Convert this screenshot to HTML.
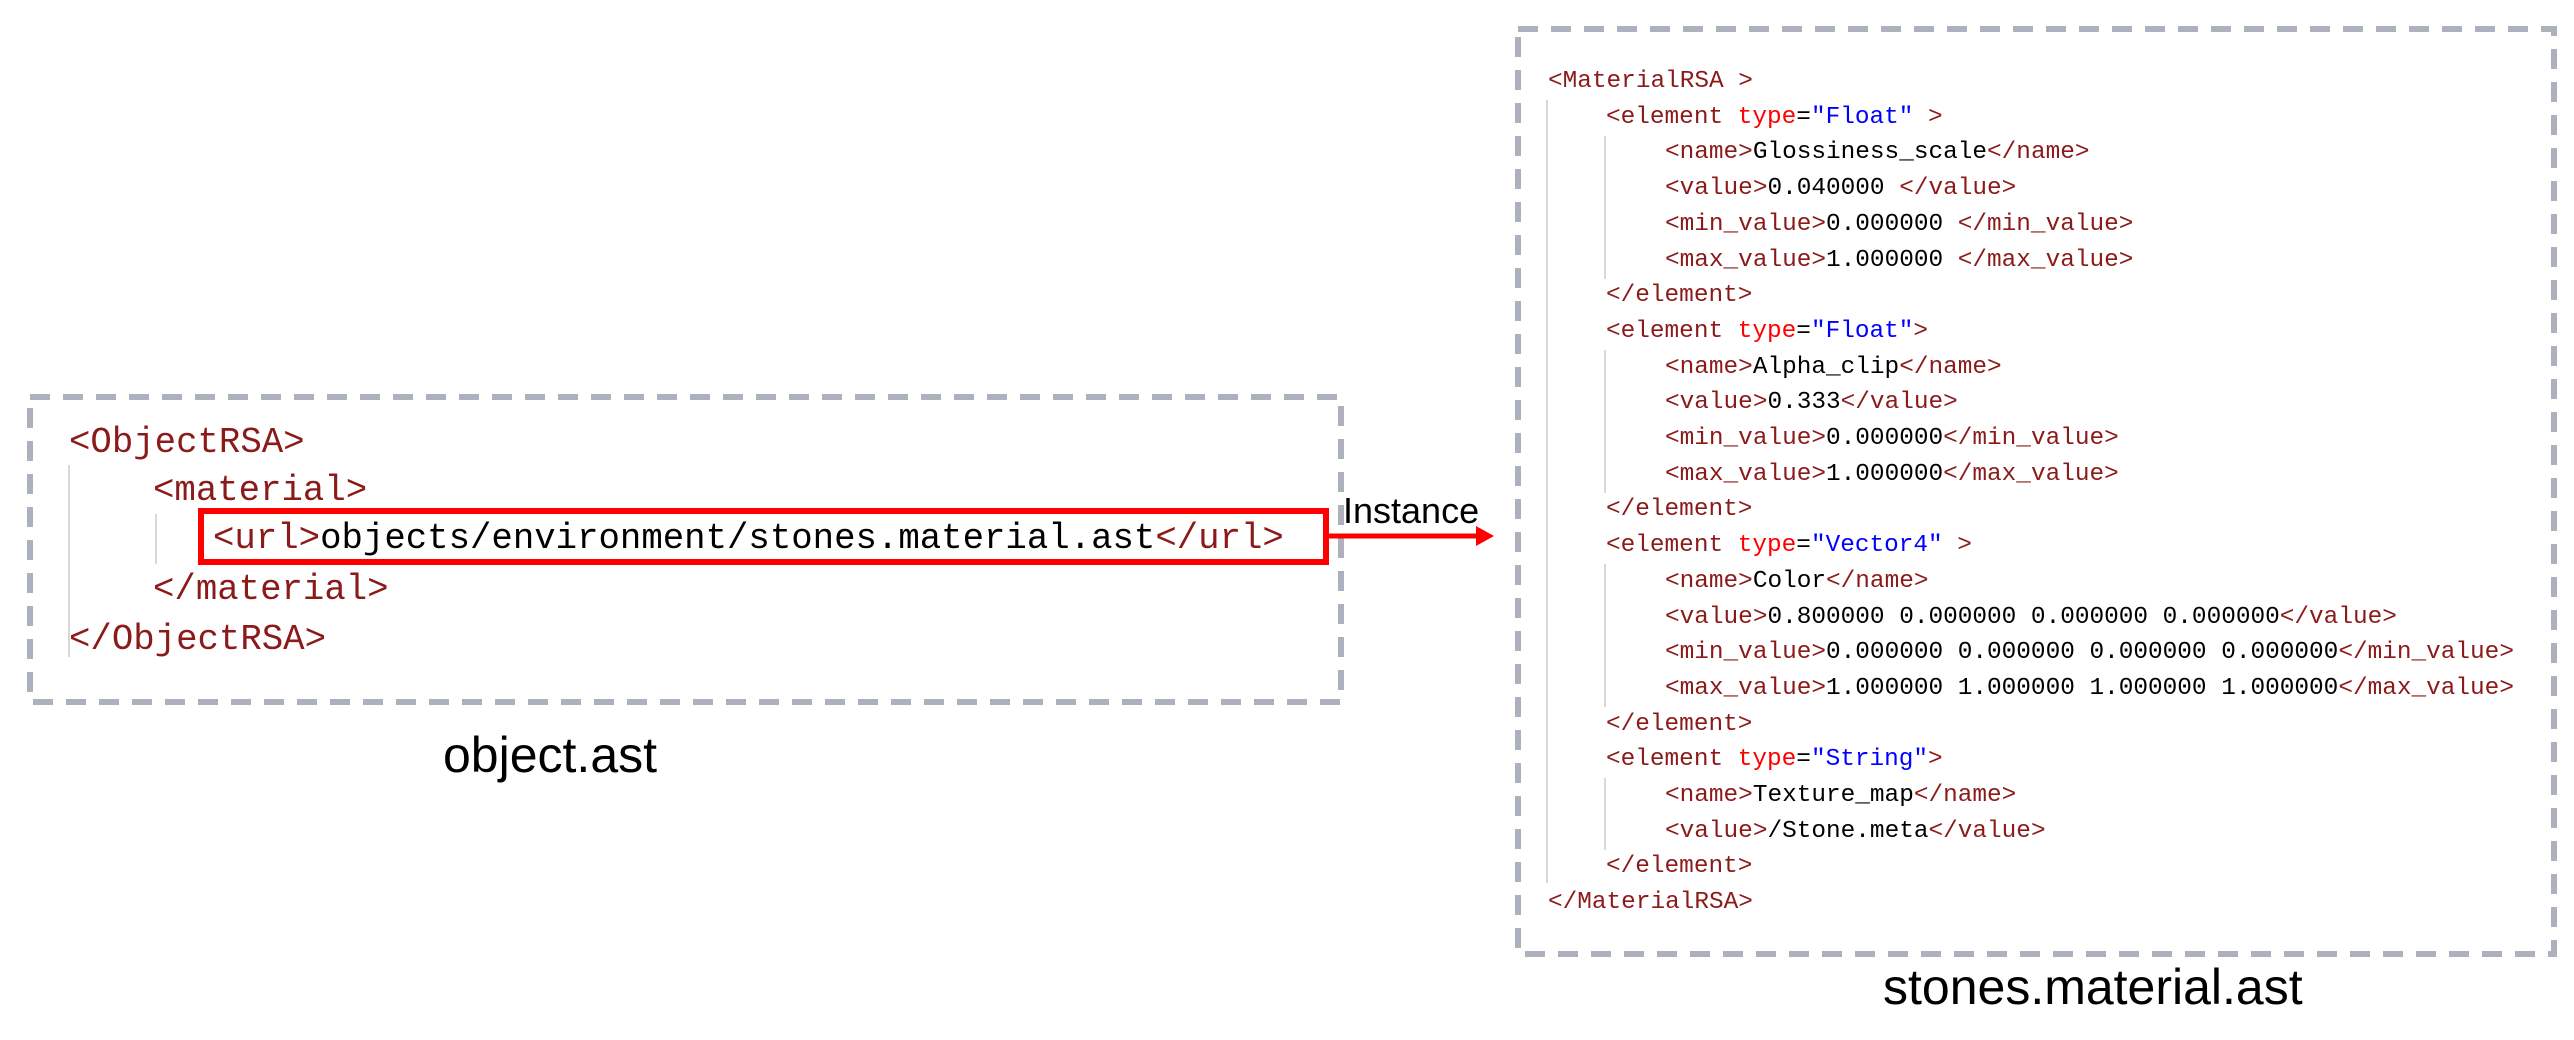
<!DOCTYPE html>
<html><head><meta charset="utf-8"><style>
html,body{margin:0;padding:0;background:#fff;}
body{width:2574px;height:1040px;position:relative;overflow:hidden;}
.l{position:absolute;white-space:pre;font-family:"Liberation Mono",monospace;line-height:1;color:#000;}
.L{font-size:35.7px;}
.R{font-size:24.4px;}
.t{color:#8b1a1a;}
.a{color:#ff0000;}
.v{color:#0000ff;}
.cap{position:absolute;font-family:"Liberation Sans",Arial,sans-serif;color:#000;white-space:pre;line-height:1;}
.g{position:absolute;width:2px;background:#d8d8d8;}
#rt{position:absolute;left:0;top:3px;width:2574px;height:1000px;}
</style></head><body>
<svg width="2574" height="1040" style="position:absolute;left:0;top:0">
<rect x="30" y="397" width="1311" height="305" fill="none" stroke="#adb1bd" stroke-width="6" stroke-dasharray="20,13"/>
<rect x="1518" y="29" width="1036" height="925" fill="none" stroke="#adb1bd" stroke-width="6" stroke-dasharray="20,13"/>
<rect x="201" y="511" width="1125" height="51" fill="none" stroke="#ff0000" stroke-width="6"/>
<line x1="1326" y1="536" x2="1480" y2="536" stroke="#ff0000" stroke-width="5"/>
<polygon points="1494,536 1476,526 1476,546" fill="#ff0000"/>
</svg>
<div class="g" style="left:68px;top:465px;height:192px"></div>
<div class="g" style="left:155px;top:514px;height:50px"></div>
<div class="l L t" style="left:69px;top:425px">&lt;ObjectRSA&gt;</div>
<div class="l L t" style="left:153px;top:473px">&lt;material&gt;</div>
<div class="l L" style="left:213px;top:521px"><span class="t">&lt;url&gt;</span>objects/environment/stones.material.ast<span class="t">&lt;/url&gt;</span></div>
<div class="l L t" style="left:153px;top:572px">&lt;/material&gt;</div>
<div class="l L t" style="left:69px;top:622px">&lt;/ObjectRSA&gt;</div>
<div class="cap" style="left:1343px;top:493px;font-size:36px">Instance</div>
<div class="cap" style="left:443px;top:730px;font-size:50px">object.ast</div>
<div class="cap" style="left:1883px;top:962px;font-size:50px">stones.material.ast</div>

<div id="rt">
<div class="g" style="left:1546px;top:97px;height:783px"></div>
<div class="g" style="left:1604px;top:133px;height:143px"></div>
<div class="g" style="left:1604px;top:347px;height:143px"></div>
<div class="g" style="left:1604px;top:561px;height:143px"></div>
<div class="g" style="left:1604px;top:775px;height:72px"></div>

<div class="l R t" style="left:1548px;top:67px">&lt;MaterialRSA &gt;</div>
<div class="l R" style="left:1606px;top:103px"><span class="t">&lt;element </span><span class="a">type</span>=<span class="v">"Float"</span><span class="t"> &gt;</span></div>
<div class="l R" style="left:1665px;top:138px"><span class="t">&lt;name&gt;</span>Glossiness_scale<span class="t">&lt;/name&gt;</span></div>
<div class="l R" style="left:1665px;top:174px"><span class="t">&lt;value&gt;</span>0.040000 <span class="t">&lt;/value&gt;</span></div>
<div class="l R" style="left:1665px;top:210px"><span class="t">&lt;min_value&gt;</span>0.000000 <span class="t">&lt;/min_value&gt;</span></div>
<div class="l R" style="left:1665px;top:246px"><span class="t">&lt;max_value&gt;</span>1.000000 <span class="t">&lt;/max_value&gt;</span></div>
<div class="l R t" style="left:1606px;top:281px">&lt;/element&gt;</div>
<div class="l R" style="left:1606px;top:317px"><span class="t">&lt;element </span><span class="a">type</span>=<span class="v">"Float"</span><span class="t">&gt;</span></div>
<div class="l R" style="left:1665px;top:353px"><span class="t">&lt;name&gt;</span>Alpha_clip<span class="t">&lt;/name&gt;</span></div>
<div class="l R" style="left:1665px;top:388px"><span class="t">&lt;value&gt;</span>0.333<span class="t">&lt;/value&gt;</span></div>
<div class="l R" style="left:1665px;top:424px"><span class="t">&lt;min_value&gt;</span>0.000000<span class="t">&lt;/min_value&gt;</span></div>
<div class="l R" style="left:1665px;top:460px"><span class="t">&lt;max_value&gt;</span>1.000000<span class="t">&lt;/max_value&gt;</span></div>
<div class="l R t" style="left:1606px;top:495px">&lt;/element&gt;</div>
<div class="l R" style="left:1606px;top:531px"><span class="t">&lt;element </span><span class="a">type</span>=<span class="v">"Vector4"</span><span class="t"> &gt;</span></div>
<div class="l R" style="left:1665px;top:567px"><span class="t">&lt;name&gt;</span>Color<span class="t">&lt;/name&gt;</span></div>
<div class="l R" style="left:1665px;top:603px"><span class="t">&lt;value&gt;</span>0.800000 0.000000 0.000000 0.000000<span class="t">&lt;/value&gt;</span></div>
<div class="l R" style="left:1665px;top:638px"><span class="t">&lt;min_value&gt;</span>0.000000 0.000000 0.000000 0.000000<span class="t">&lt;/min_value&gt;</span></div>
<div class="l R" style="left:1665px;top:674px"><span class="t">&lt;max_value&gt;</span>1.000000 1.000000 1.000000 1.000000<span class="t">&lt;/max_value&gt;</span></div>
<div class="l R t" style="left:1606px;top:710px">&lt;/element&gt;</div>
<div class="l R" style="left:1606px;top:745px"><span class="t">&lt;element </span><span class="a">type</span>=<span class="v">"String"</span><span class="t">&gt;</span></div>
<div class="l R" style="left:1665px;top:781px"><span class="t">&lt;name&gt;</span>Texture_map<span class="t">&lt;/name&gt;</span></div>
<div class="l R" style="left:1665px;top:817px"><span class="t">&lt;value&gt;</span>/Stone.meta<span class="t">&lt;/value&gt;</span></div>
<div class="l R t" style="left:1606px;top:852px">&lt;/element&gt;</div>
<div class="l R t" style="left:1548px;top:888px">&lt;/MaterialRSA&gt;</div>
</div>
</body></html>
